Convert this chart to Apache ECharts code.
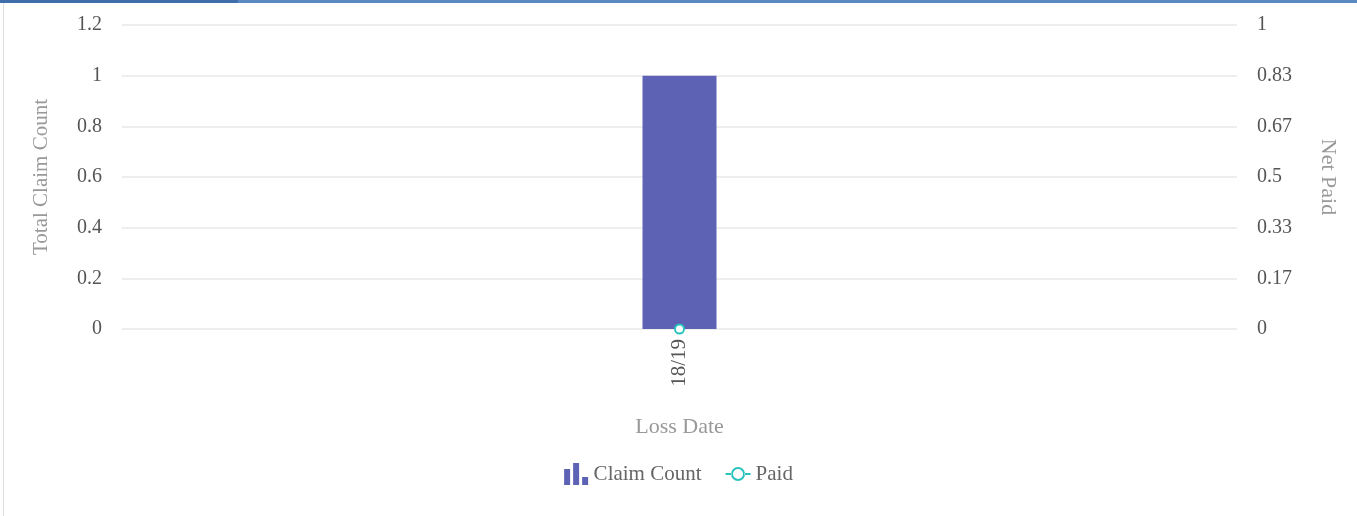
<!DOCTYPE html>
<html>
<head>
<meta charset="utf-8">
<script src="https://cdn.jsdelivr.net/npm/echarts@6/dist/echarts.min.js"></script>
<style>
  html, body { margin: 0; padding: 0; background: #fff; }
  .com-container { position: relative; width: 1357px; height: 516px; }
  .bar-left { position: absolute; top: 0; left: 3px; width: 1px; bottom: 0; background: #ddd; }
  .bar-top { position: absolute; top: 0; left: 0; right: 0; height: 3px; background: #5a88c0; }
  .bar-top-dark { position: absolute; top: 0; left: 0; width: 238px; height: 3px; background: #3f6fab; }
  .com-chart { position: absolute; top: 0; left: 0; width: 1357px; height: 516px; }
</style>
</head>
<body>
<div class="com-container">
  <div class="bar-left"></div>
  <div class="com-chart" id="chart"></div>
  <div class="bar-top"></div>
  <div class="bar-top-dark"></div>
</div>
<script>
// 数据
const categories = ['18/19'];
const claimCount = [1];
const paid = [0];
const rightTicks = ['0', '0.17', '0.33', '0.5', '0.67', '0.83', '1'];

const chartInstance = echarts.init(document.getElementById('chart'));
const font = '"Liberation Serif", "Times New Roman", serif';
const option = {
  textStyle: { fontFamily: font },
  grid: { left: 122, right: 120, top: 25, bottom: 187 },
  legend: {
    bottom: 26,
    left: 'center',
    itemGap: 24,
    itemWidth: 25,
    itemHeight: 22,
    textStyle: { fontFamily: font, fontSize: 21, color: '#666' },
    data: [
      { name: 'Claim Count', icon: 'path://M0,6h6v16h-6z M9,0h6v22h-6z M18,14h6v8h-6z' },
      {
        name: 'Paid',
        icon: 'path://M12,0h0.01v0.01h-0.01z M12,21.99h0.01v0.01h-0.01z M0,10h6v2h-6z M19,10h6v2h-6z M5.5,11a7,7 0 1,0 14,0a7,7 0 1,0 -14,0z M7.5,11a5,5 0 1,1 10,0a5,5 0 1,1 -10,0z'
      }
    ]
  },
  xAxis: {
    type: 'category',
    data: categories,
    name: 'Loss Date',
    nameLocation: 'middle',
    nameGap: 87,
    nameTextStyle: { fontFamily: font, fontSize: 22, color: '#999' },
    axisLine: { lineStyle: { color: '#eee' } },
    axisTick: { show: false },
    axisLabel: { rotate: 90, margin: 10, fontFamily: font, fontSize: 21, color: '#555' }
  },
  yAxis: [
    {
      type: 'value',
      min: 0,
      max: 1.2,
      interval: 0.2,
      name: 'Total Claim Count',
      nameLocation: 'middle',
      nameGap: 70,
      nameTextStyle: { fontFamily: font, fontSize: 21, color: '#999' },
      axisLine: { show: false },
      axisTick: { show: false },
      splitLine: { lineStyle: { color: '#eee', width: 2 } },
      axisLabel: { margin: 20, fontFamily: font, fontSize: 20, color: '#555' }
    },
    {
      type: 'value',
      position: 'right',
      min: 0,
      max: 1,
      interval: 1 / 6,
      name: 'Net Paid',
      nameLocation: 'middle',
      nameRotate: -90,
      nameGap: 80,
      nameTextStyle: { fontFamily: font, fontSize: 22, color: '#999' },
      axisLine: { show: false },
      axisTick: { show: false },
      splitLine: { show: false },
      axisLabel: {
        margin: 20, fontFamily: font, fontSize: 20, color: '#555',
        formatter: (v) => rightTicks[Math.round(v * 6)]
      }
    }
  ],
  series: [
    {
      name: 'Claim Count',
      type: 'bar',
      data: claimCount,
      barWidth: 74,
      itemStyle: { color: '#5d62b5' }
    },
    {
      name: 'Paid',
      type: 'line',
      yAxisIndex: 1,
      data: paid,
      symbol: 'emptyCircle',
      symbolSize: 9,
      itemStyle: { color: '#29c3be', borderWidth: 2 },
      lineStyle: { color: '#29c3be', width: 2 }
    }
  ]
};
chartInstance.setOption(option);
</script>
</body>
</html>
